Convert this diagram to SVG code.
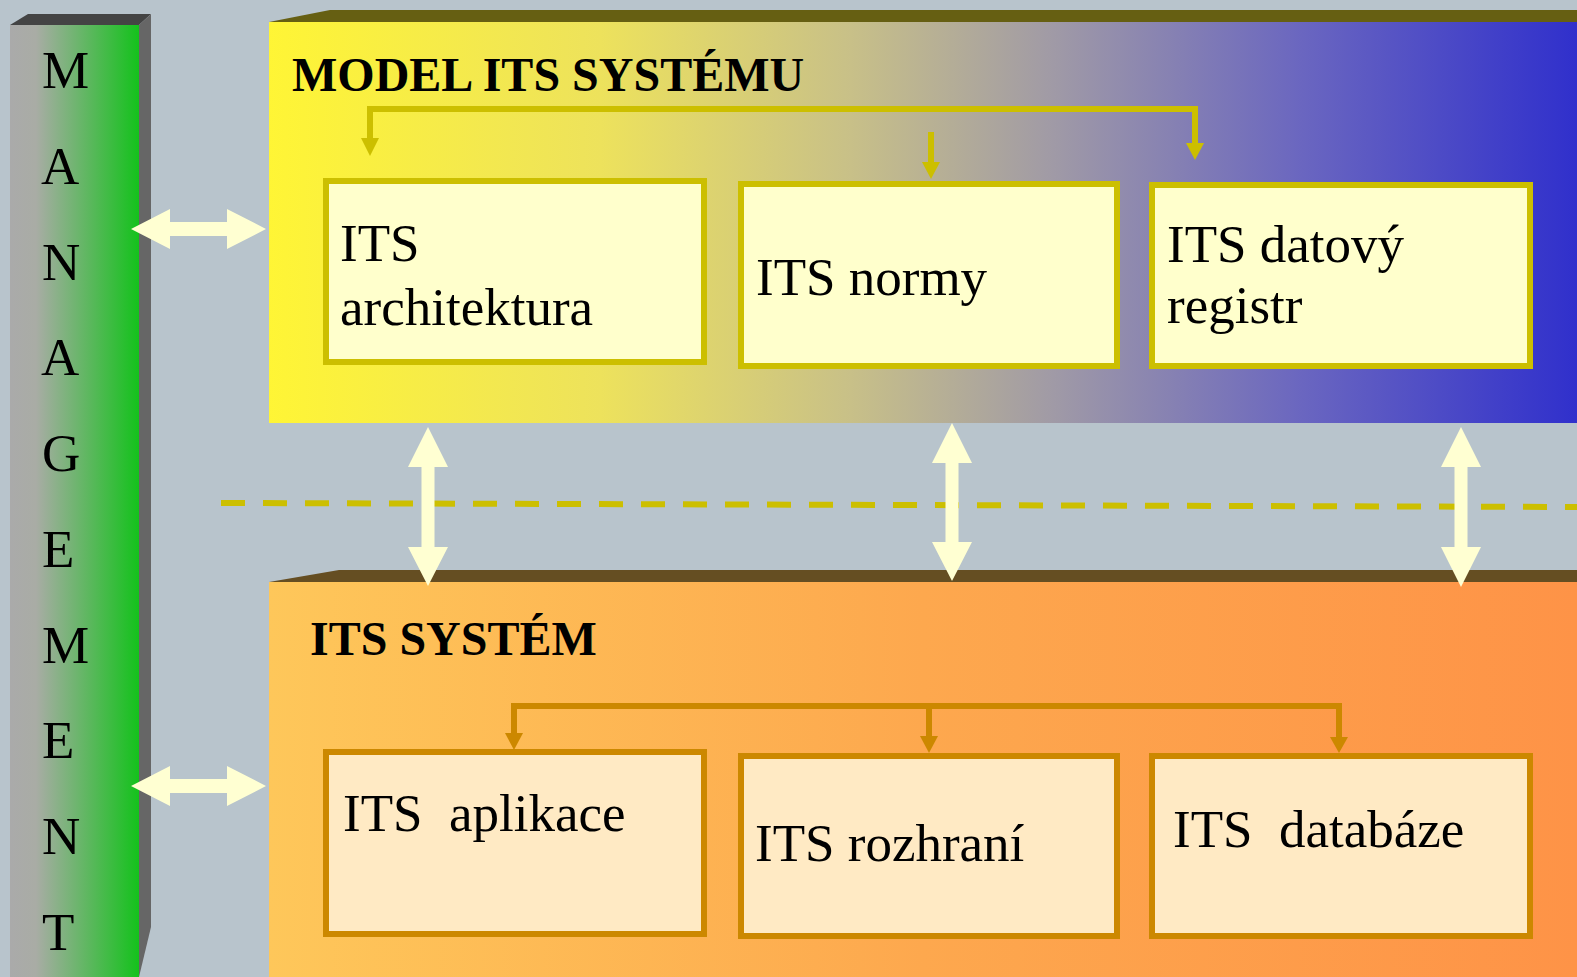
<svg xmlns="http://www.w3.org/2000/svg" width="1577" height="977" viewBox="0 0 1577 977">
  <defs>
    <linearGradient id="gMgmt" gradientUnits="userSpaceOnUse" x1="10" y1="0" x2="139" y2="0">
      <stop offset="0" stop-color="#aaaaaa"/>
      <stop offset="0.2" stop-color="#a9aca5"/>
      <stop offset="1" stop-color="#14c21c"/>
    </linearGradient>
    <linearGradient id="gModel" gradientUnits="userSpaceOnUse" x1="268" y1="0" x2="1577" y2="0">
      <stop offset="0" stop-color="#fff535"/>
      <stop offset="0.254" stop-color="#ede25c"/>
      <stop offset="0.445" stop-color="#c8c088"/>
      <stop offset="0.6" stop-color="#a09aa6"/>
      <stop offset="0.79" stop-color="#6a66c0"/>
      <stop offset="1" stop-color="#3030cc"/>
    </linearGradient>
    <linearGradient id="gSystem" gradientUnits="userSpaceOnUse" x1="268" y1="0" x2="1577" y2="0">
      <stop offset="0" stop-color="#fec75a"/>
      <stop offset="0.5" stop-color="#fda84e"/>
      <stop offset="1" stop-color="#fe9347"/>
    </linearGradient>
  </defs>
  <style>
    .letter { font-family: "Liberation Serif", "Times New Roman", serif; font-size: 53px; fill: #000; }
    .title { font-family: "Liberation Serif", "Times New Roman", serif; font-size: 48px; font-weight: bold; fill: #000; }
    .label { font-family: "Liberation Serif", "Times New Roman", serif; font-size: 53px; fill: #000; white-space: pre; }
    .boxY { fill: #ffffcc; stroke: #ccbf00; stroke-width: 6; }
    .boxO { fill: #ffeac4; stroke: #cc8800; stroke-width: 6; }
    .linkY { fill: none; stroke: #ccbf00; stroke-width: 6; }
    .linkO { fill: none; stroke: #cc8800; stroke-width: 6; }
    .headY { fill: #ccbf00; }
    .headO { fill: #cc8800; }
    .dbl { fill: #ffffd2; }
  </style>

  <!-- backdrop -->
  <rect x="0" y="0" width="1577" height="977" fill="#b8c4cc"/>

  <!-- management pillar -->
  <g id="management">
    <polygon points="10,25 28,14 151,14 139,25" fill="#444444"/>
    <polygon points="139,25 151,14 151,927 139,977" fill="#666666"/>
    <rect x="10" y="25" width="129" height="952" fill="url(#gMgmt)"/>
    <text class="letter" x="42" y="88">M</text>
    <text class="letter" x="41" y="184">A</text>
    <text class="letter" x="42" y="280">N</text>
    <text class="letter" x="41" y="375">A</text>
    <text class="letter" x="42" y="471">G</text>
    <text class="letter" x="42" y="567">E</text>
    <text class="letter" x="42" y="663">M</text>
    <text class="letter" x="42" y="758">E</text>
    <text class="letter" x="42" y="854">N</text>
    <text class="letter" x="42" y="950">T</text>
  </g>

  <!-- upper layer: system model -->
  <g id="model-layer">
    <polygon points="269,22 330,10 1577,10 1577,22" fill="#665f12"/>
    <rect x="269" y="22" width="1308" height="401" fill="url(#gModel)"/>
    <text class="title" x="292" y="91">MODEL ITS SYSTÉMU</text>
  </g>

  <!-- lower layer: system -->
  <g id="system-layer">
    <polygon points="269,582 339,570 1577,570 1577,582" fill="#654e22"/>
    <rect x="269" y="582" width="1308" height="395" fill="url(#gSystem)"/>
    <text class="title" x="310" y="655">ITS SYSTÉM</text>
  </g>

  <!-- boxes of the model layer -->
  <g id="its-architektura">
    <rect class="boxY" x="326" y="181" width="378" height="181"/>
    <text class="label" x="340" y="261">ITS</text>
    <text class="label" x="340" y="325">architektura</text>
  </g>
  <g id="its-normy">
    <rect class="boxY" x="741" y="184" width="376" height="182"/>
    <text class="label" x="756" y="295">ITS normy</text>
  </g>
  <g id="its-datovy-registr">
    <rect class="boxY" x="1152" y="185" width="378" height="181"/>
    <text class="label" x="1167" y="262">ITS datový</text>
    <text class="label" x="1167" y="323">registr</text>
  </g>

  <!-- boxes of the system layer -->
  <g id="its-aplikace">
    <rect class="boxO" x="326" y="752" width="378" height="182"/>
    <text class="label" x="343" y="831">ITS  aplikace</text>
  </g>
  <g id="its-rozhrani">
    <rect class="boxO" x="741" y="756" width="376" height="180"/>
    <text class="label" x="755" y="861">ITS rozhraní</text>
  </g>
  <g id="its-databaze">
    <rect class="boxO" x="1152" y="756" width="378" height="180"/>
    <text class="label" x="1173" y="847">ITS  databáze</text>
  </g>

  <!-- connectors -->
  <g id="connectors">
    <!-- layer boundary -->
    <line x1="221" y1="503" x2="1577" y2="507" stroke="#ccbf00" stroke-width="6" stroke-dasharray="24 18"/>

    <!-- model layer distribution -->
    <polyline class="linkY" points="370,140 370,109 1195,109 1195,145"/>
    <polygon class="headY" points="361,138 379,138 370,156"/>
    <polygon class="headY" points="1186,143 1204,143 1195,160"/>
    <line class="linkY" x1="931" y1="132" x2="931" y2="164"/>
    <polygon class="headY" points="922,162 940,162 931,179"/>

    <!-- system layer distribution -->
    <polyline class="linkO" points="514,736 514,706 1339,706 1339,739"/>
    <line class="linkO" x1="929" y1="706" x2="929" y2="736"/>
    <polygon class="headO" points="505,733 523,733 514,750"/>
    <polygon class="headO" points="920,736 938,736 929,753"/>
    <polygon class="headO" points="1330,737 1348,737 1339,753"/>

    <!-- management links -->
    <polygon class="dbl" points="131,229 170,209 170,222 227,222 227,209 266,229 227,249 227,236 170,236 170,249"/>
    <polygon class="dbl" points="131,786 170,766 170,779 227,779 227,766 266,786 227,806 227,793 170,793 170,806"/>

    <!-- model to system links -->
    <polygon class="dbl" points="428,427 448,467 434.5,467 434.5,547 448,547 428,586 408,547 421.5,547 421.5,467 408,467"/>
    <polygon class="dbl" points="952,423 972,463 958.5,463 958.5,542 972,542 952,581 932,542 945.5,542 945.5,463 932,463"/>
    <polygon class="dbl" points="1461,427 1481,467 1467.5,467 1467.5,547 1481,547 1461,587 1441,547 1454.5,547 1454.5,467 1441,467"/>
  </g>
</svg>
